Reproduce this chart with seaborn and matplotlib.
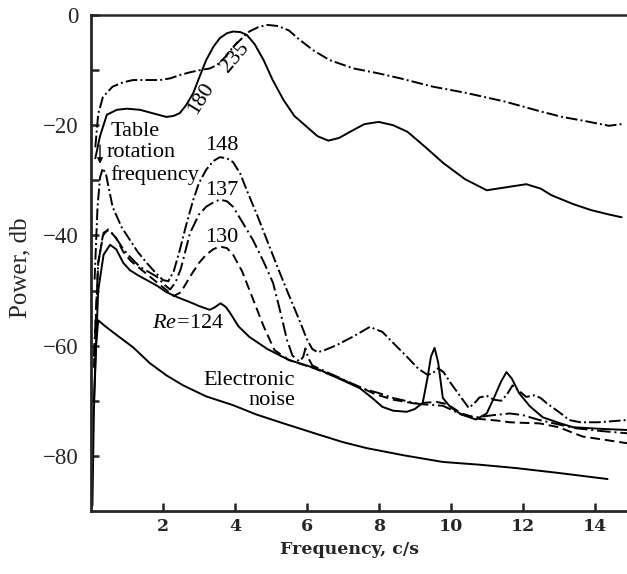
import matplotlib
matplotlib.use("Agg")
import matplotlib.pyplot as plt
import seaborn as sns
import pandas as pd

# ---- spectra (frequency in c/s, power in db) ----
re235_f = [0.12, 0.2, 0.33, 0.6, 0.9, 1.17, 1.5, 1.92, 2.2, 2.47, 2.75, 3.03, 3.3, 3.5, 3.75,
           3.95, 4.2, 4.4, 4.65, 4.9, 5.2, 5.5, 5.8, 6.2, 6.64, 7.3, 8.0, 8.6, 9.5, 10.4, 11.5,
           12.5, 13.1, 13.7, 14.4, 14.75]
re235_p = [-24, -18, -14.9, -13, -12.2, -11.8, -11.8, -11.8, -11.5, -10.9, -10.4, -10, -9.7,
           -9.1, -7.5, -5.8, -4.2, -3, -2.2, -1.8, -2.0, -2.8, -4.5, -6.5, -8.2, -9.7, -10.6,
           -11.5, -13, -14.1, -15.7, -17.5, -18.5, -19.2, -20.1, -19.8]

re180_f = [0.12, 0.25, 0.44, 0.72, 1.0, 1.36, 1.7, 2.1, 2.3, 2.47, 2.65, 2.84, 3.0, 3.2, 3.4,
           3.58, 3.78, 3.95, 4.15, 4.33, 4.55, 4.8, 5.05, 5.35, 5.65, 6.0, 6.3, 6.6, 6.9, 7.2,
           7.6, 8.0, 8.4, 8.8, 9.3, 9.8, 10.4, 11.0, 11.5, 12.1, 12.5, 12.8, 13.4, 13.9, 14.4,
           14.75]
re180_p = [-26, -22, -18.1, -17.2, -17.0, -17.2, -17.8, -18.5, -18.3, -17.8, -16.3, -14.2,
           -11.5, -8.2, -5.8, -4.2, -3.3, -3.0, -3.1, -3.6, -5.3, -8.2, -11.8, -15.4, -18.3,
           -20.3, -22.0, -22.8, -22.3, -21.2, -19.8, -19.4, -20.0, -21.2, -24.0, -26.9, -29.8,
           -31.8, -31.3, -30.7, -31.5, -32.7, -34.3, -35.4, -36.2, -36.7]

re148_f = [0.1, 0.18, 0.25, 0.33, 0.42, 0.6, 0.85, 1.08, 1.3, 1.55, 1.8, 2.0, 2.15, 2.3, 2.47,
           2.65, 2.84, 3.0, 3.2, 3.4, 3.58, 3.78, 3.95, 4.15, 4.33, 4.6, 4.9, 5.2, 5.5, 5.8,
           6.0, 6.15, 6.3, 6.5, 6.83, 7.3, 7.75, 8.1, 8.4, 8.78, 9.1, 9.36, 9.5, 9.65,
           9.8, 10.0, 10.2, 10.5, 10.65, 10.8, 11.0, 11.2, 11.4, 11.55, 11.72, 11.9, 12.1,
           12.33, 12.5, 12.66, 13.0, 13.3, 13.6, 14.1, 14.9]
re148_p = [-48, -35, -29.5, -27.8, -29, -34.8, -38.5, -40.8, -43, -45, -46.8, -48.1, -48.3,
           -46.5, -42.6, -38, -33.6, -30.5, -28.1, -26.5, -25.8, -26, -26.7, -28.8, -31.8,
           -36.0, -41.0, -46.0, -50.8, -55.5, -58.8, -60.6, -61.2, -60.8, -59.9, -58.3,
           -56.6, -57.5, -59.5, -62, -64.2, -65.3, -65, -64.1, -64.8, -66.8, -68.6, -71.3,
           -70.5, -69.4, -69.1, -69.8, -70.0, -69, -67.2, -68.2, -69.3, -69.0, -69.5, -70.4,
           -72, -73.5, -73.9, -73.9, -73.5]

re137_f = [0.08, 0.2, 0.33, 0.47, 0.65, 0.9, 1.1, 1.36, 1.6, 1.83, 2.05, 2.2, 2.35, 2.5, 2.75,
           3.0, 3.2, 3.4, 3.58, 3.78, 3.95, 4.2, 4.5, 4.8, 5.06, 5.25, 5.45, 5.6, 5.8, 5.9,
           5.96, 6.04, 6.15, 6.9, 7.56, 8.0, 8.4, 9.14, 9.78, 10.3, 10.7, 11.2, 11.64, 12.0,
           12.47, 13.0, 13.5, 14.2, 14.9]
re137_p = [-62, -45, -40, -38.9, -40, -42.5, -44, -45.7, -46.6, -47.5, -49, -49.8, -48.5,
           -46, -39.6, -36.2, -34.8, -34, -33.5, -33.8, -34.8, -37.5, -40.8, -44.8, -48.6,
           -53.5, -59.0, -61.8, -62.9, -62.0, -60.5, -62.2, -63.6, -65.8, -67.8, -68.6, -69.5,
           -70.6, -70.9, -72.5, -73, -72.6, -72.3, -72.6, -73.5, -74.3, -75, -75.5, -75.9]

re130_f = [0.08, 0.2, 0.35, 0.5, 0.7, 0.9, 1.1, 1.4, 1.7, 2.0, 2.3, 2.5, 2.75, 3.0, 3.2, 3.4,
           3.58, 3.78, 3.95, 4.2, 4.5, 4.8, 5.1, 5.5, 6.2, 6.9, 7.5, 7.9, 8.4, 9.0, 9.6,
           9.9, 10.3, 10.8, 11.3, 11.64, 12.0, 12.47, 13.0, 13.67, 14.3, 14.9]
re130_p = [-64, -45, -39.5, -39, -40.5, -43, -44.6, -46.2, -47.8, -49.4, -51, -50.3, -47.5,
           -45, -43.5, -42.5, -42.0, -42.3, -43.5, -46.5, -51.5, -56.5, -60.8, -62.6,
           -64.1, -65.9, -67.6, -68.8, -69.8, -70.5, -70.2, -70.6, -72.3, -73.3, -73.6, -73.9,
           -74, -74.1, -74.8, -76.5, -77.1, -77.7]

re124_f = [0.08, 0.2, 0.35, 0.53, 0.7, 0.9, 1.08, 1.3, 1.55, 1.83, 2.1, 2.4, 2.75, 3.0, 3.3,
           3.45, 3.6, 3.75, 3.86, 4.1, 4.4, 4.9, 5.5, 6.0, 6.36, 6.9, 7.47, 7.8, 8.1, 8.4,
           8.78, 9.0, 9.22, 9.35, 9.45, 9.55, 9.65, 9.78, 10.0, 10.3, 10.7, 11.0, 11.2, 11.4,
           11.55, 11.7, 11.9, 12.2, 12.56, 13.0, 13.4, 14.2, 14.9]
re124_p = [-70, -50, -43.5, -41.7, -42.5, -45, -46.3, -47.2, -48.1, -49.1, -50.3, -51.2,
           -52.1, -52.8, -53.5, -53.0, -52.3, -53.0, -54, -56.5, -58.4, -60.6, -62.6, -63.6,
           -64.4, -66, -67.7, -69.4, -71.1, -71.8, -72, -71.5, -70.4, -66, -62, -60.4, -63,
           -69.5, -71.2, -72.5, -73.4, -72.3, -69.5, -66.5, -64.8, -66, -68.6, -71, -73,
           -74, -74.8, -75.1, -75.3]

noise_f = [0.04, 0.08, 0.14, 0.2, 0.4, 0.7, 1.17, 1.64, 2.1, 2.56, 3.2, 3.95, 4.6, 5.35,
           6.36, 7.0, 7.67, 8.7, 9.78, 10.8, 11.8, 13.0, 14.36]
noise_p = [-89, -72, -60, -55.4, -56.5, -58, -60.3, -63.2, -65.4, -67.2, -69.2, -70.8,
           -72.5, -74.1, -76.2, -77.5, -78.6, -79.9, -81.1, -81.6, -82.2, -83.1, -84.2]

series_names = ["235", "180", "148", "137", "130", "124", "noise"]
freq_sets = [re235_f, re180_f, re148_f, re137_f, re130_f, re124_f, noise_f]
power_sets = [re235_p, re180_p, re148_p, re137_p, re130_p, re124_p, noise_p]

y_ticks = [0, -20, -40, -60, -80]
y_tick_labels = ["0", "\u221220", "\u221240", "\u221260", "\u221280"]
x_ticks = [2, 4, 6, 8, 10, 12, 14]

frames = [pd.DataFrame({"freq": f, "power": p, "series": n})
          for n, f, p in zip(series_names, freq_sets, power_sets)]
df = pd.concat(frames, ignore_index=True)

line_styles = {
    "235": (6, 1.6, 1, 1.6),
    "180": "",
    "148": (6, 1.6, 1, 1.6),
    "137": (7, 2, 1, 2),
    "130": (5, 2.5),
    "124": "",
    "noise": "",
}

sns.set_style("ticks")
plt.rcParams["font.family"] = ["Liberation Serif", "DejaVu Serif"]
plt.rcParams["mathtext.fontset"] = "custom"
plt.rcParams["mathtext.rm"] = "Liberation Serif"
plt.rcParams["mathtext.it"] = "Liberation Serif:italic"

fig = plt.figure(figsize=(6.27, 5.74), dpi=100)
ax = fig.add_axes([91 / 627, 63 / 574, 536 / 627, 496 / 574])

sns.lineplot(data=df, x="freq", y="power", style="series", dashes=line_styles,
             color="black", linewidth=1.4, estimator=None, sort=False,
             legend=False, ax=ax)

ax.set_xlim(0, 14.9)
ax.set_ylim(-90, 0)

ax.set_yticks(y_ticks)
ax.set_yticklabels(y_tick_labels, fontsize=16.5, family="Liberation Serif")
ax.set_yticks([-10, -30, -50, -70], minor=True)
ax.set_xticks(x_ticks)
ax.set_xticklabels([str(t) for t in x_ticks], fontsize=12.5, family="DejaVu Serif",
                   fontweight="bold")
ax.tick_params(axis="y", which="both", direction="in", length=6, width=1.8, pad=9)
ax.tick_params(axis="x", which="both", direction="in", length=6, width=1.8, pad=5)

for side in ["left", "bottom"]:
    ax.spines[side].set_linewidth(2.0)
ax.spines["top"].set_linewidth(1.8)
ax.spines["right"].set_visible(False)

ax.set_xlabel("Frequency, c/s", fontsize=12.5, family="DejaVu Serif", fontweight="bold")
ax.xaxis.set_label_coords(0.483, -0.06)
ax.set_ylabel("Power, db", fontsize=18, family="Liberation Serif")
ax.yaxis.set_label_coords(-0.112, 0.49)

# curve annotations
txt = dict(fontsize=16, color="black", family="Liberation Serif")
ax.text(4.0, -7.6, "235", rotation=50, ha="center", va="center", **txt)
ax.text(3.06, -15.1, "180", rotation=58, ha="center", va="center", **txt)
ax.text(3.64, -23.6, "148", ha="center", va="center", **txt)
ax.text(3.64, -31.9, "137", ha="center", va="center", **txt)
ax.text(3.64, -40.3, "130", ha="center", va="center", **txt)
ax.text(2.69, -55.9, r"$\mathit{Re}\!=\!\mathrm{124}$", ha="center", va="center", **txt)
ax.text(5.67, -66.4, "Electronic", ha="right", va="center", **txt)
ax.text(5.67, -70.0, "noise", ha="right", va="center", **txt)
ax.text(0.53, -21.05, "Table", ha="left", va="center", **txt)
ax.text(0.44, -25.0, "rotation", ha="left", va="center", **txt)
ax.text(0.53, -29.0, "frequency", ha="left", va="center", **txt)
ax.annotate("", xy=(0.25, -27.0), xytext=(0.25, -23.6),
            arrowprops=dict(arrowstyle="-|>", color="black", lw=1.0, mutation_scale=8,
                            shrinkA=0, shrinkB=0))

fig.savefig("out.png", dpi=100)
